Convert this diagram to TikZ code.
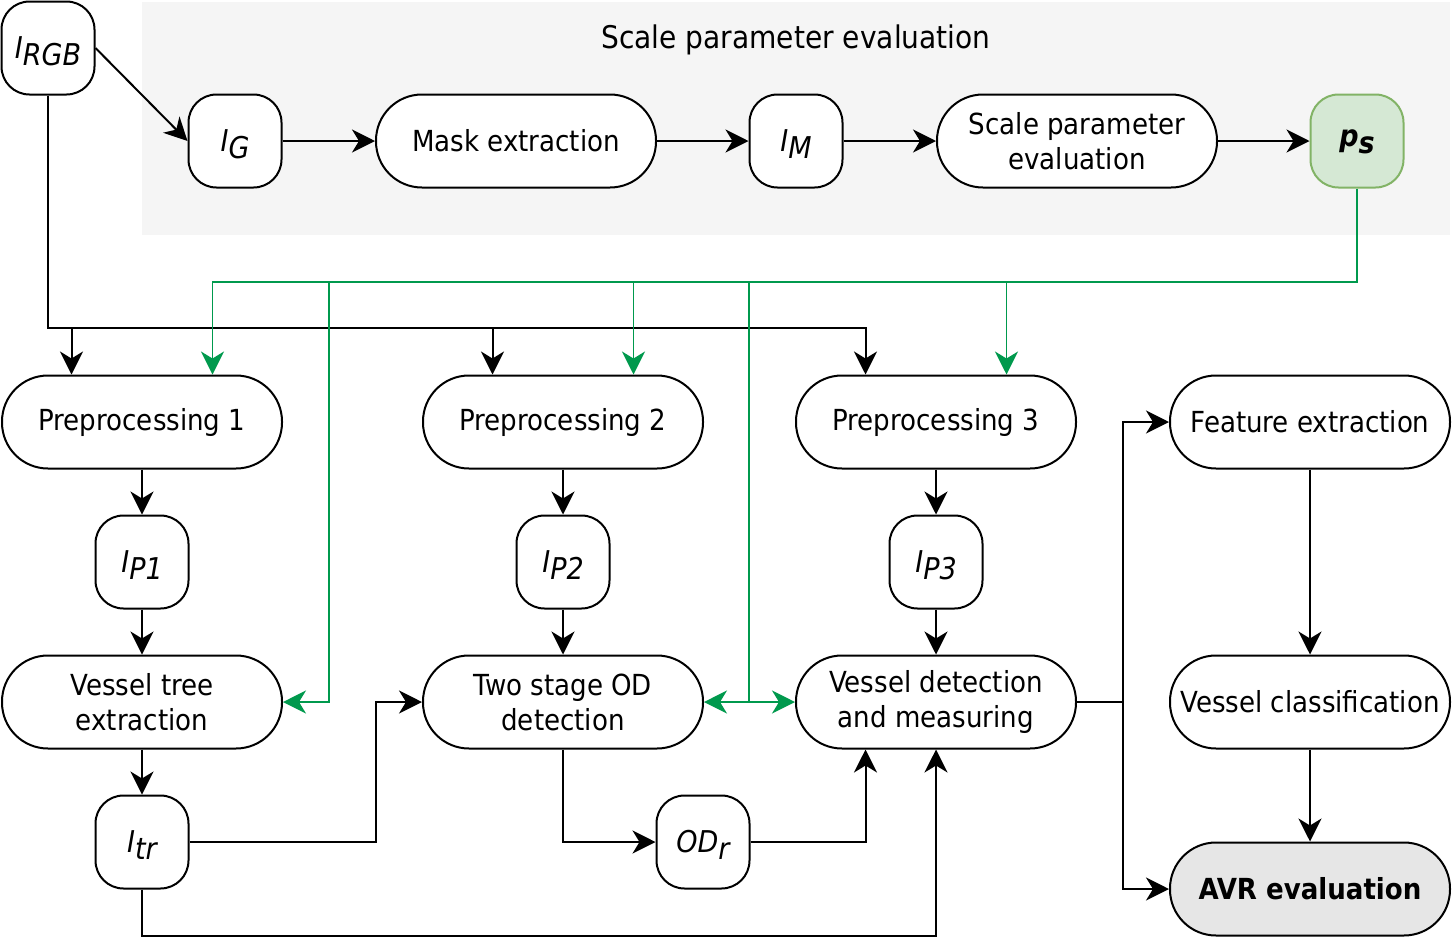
\documentclass[tikz,border=0pt]{standalone}
\usepackage{fontspec}
\setmainfont{DejaVu Sans Condensed}
\usetikzlibrary{arrows.meta,calc}
\definecolor{gline}{HTML}{00994D}
\definecolor{gfill}{HTML}{D5E8D4}
\definecolor{gdraw}{HTML}{82B366}
\definecolor{bggray}{HTML}{F5F5F5}
\definecolor{avrfill}{HTML}{E6E6E6}
\newcommand{\vsb}[2]{{\fontsize{15}{17}\selectfont\itshape #1\raisebox{-3.4pt}[0pt][0pt]{#2}}}
\begin{document}
\begin{tikzpicture}[x=0.5pt,y=-0.5pt,
  every node/.style={font=\fontsize{14.5}{17.5}\selectfont},
  sq/.style={draw, line width=1pt, fill=white, minimum width=46.5pt, minimum height=46.5pt, rounded corners=14pt, inner sep=0pt},
  pill/.style={draw, line width=1pt, fill=white, minimum width=140pt, minimum height=46.5pt, rounded corners=23pt, align=center, inner sep=0pt},
  arr/.style={line width=1pt, -{Stealth[length=11.5pt,width=11.5pt,inset=3.5pt]}},
  garr/.style={line width=0.8pt, draw=gline, -{Stealth[length=11.5pt,width=11.5pt,inset=3.5pt]}}
]
\useasboundingbox (0,0) rectangle (1453,938);
\fill[bggray] (142,2) rectangle (1450,235);
\node[font=\fontsize{15.6}{18}\selectfont] (title) at (796,40) {Scale parameter evaluation};

% top row
\node[sq] (irgb) at (48,48) {\vsb{I}{RGB}};
\node[sq] (ig) at (235,141) {\vsb{I}{G}};
\node[pill] (mask) at (516,141) {Mask extraction};
\node[sq] (im) at (796,141) {\vsb{I}{M}};
\node[pill] (spe) at (1077,141) {Scale parameter\\evaluation};
\node[sq, fill=gfill, draw=gdraw] (ps) at (1357,141) {\bfseries\vsb{p}{s}};

% row 2
\node[pill] (p1) at (142,422) {Preprocessing 1};
\node[pill] (p2) at (563,422) {Preprocessing 2};
\node[pill] (p3) at (936,422) {Preprocessing 3};
\node[pill] (fe) at (1310,422) {Feature extraction};

% row 3
\node[sq] (ip1) at (142,562) {\vsb{I}{P1}};
\node[sq] (ip2) at (563,562) {\vsb{I}{P2}};
\node[sq] (ip3) at (936,562) {\vsb{I}{P3}};

% row 4
\node[pill] (vt) at (142,702) {Vessel tree\\extraction};
\node[pill] (od) at (563,702) {Two stage OD\\detection};
\node[pill] (vd) at (936,702) {Vessel detection\\and measuring};
\node[pill] (vc) at (1310,702) {Vessel classification};

% row 5
\node[sq] (itr) at (142,842) {\vsb{I}{tr}};
\node[sq] (odr) at (703,842) {\vsb{OD}{r}};
\node[pill, fill=avrfill] (avr) at (1310,889) {\textbf{AVR evaluation}};

% helper coordinates
\path (p1.north west) -- (p1.north east) coordinate[pos=0.25] (p1a) coordinate[pos=0.75] (p1b);
\path (p2.north west) -- (p2.north east) coordinate[pos=0.25] (p2a) coordinate[pos=0.75] (p2b);
\path (p3.north west) -- (p3.north east) coordinate[pos=0.25] (p3a) coordinate[pos=0.75] (p3b);
\path (vd.south west) -- (vd.south east) coordinate[pos=0.25] (vdq);
\coordinate (yb) at (0,328);
\coordinate (yg) at (0,282);
\coordinate (ybot) at (0,936);
\coordinate (gx1) at (329,0);
\coordinate (gx2) at (749,0);
\coordinate (cx) at (376,0);
\coordinate (xr) at (1123,0);

% top chain
\draw[arr] (irgb.east) -- (ig.west);
\draw[arr] (ig) -- (mask);
\draw[arr] (mask) -- (im);
\draw[arr] (im) -- (spe);
\draw[arr] (spe) -- (ps);

% black bus
\draw[arr] (irgb.south) |- (p3a |- yb) -- (p3a);
\draw[arr] (p1a |- yb) -- (p1a);
\draw[arr] (p2a |- yb) -- (p2a);

% columns
\draw[arr] (p1) -- (ip1);
\draw[arr] (ip1) -- (vt);
\draw[arr] (vt) -- (itr);
\draw[arr] (p2) -- (ip2);
\draw[arr] (ip2) -- (od);
\draw[arr] (p3) -- (ip3);
\draw[arr] (ip3) -- (vd);

\draw[arr] (itr.east) -| (cx |- od.west) -- (od.west);
\draw[arr] (itr.south) |- (vd.south |- ybot) -- (vd.south);
\draw[arr] (od.south) |- (odr.west);
\draw[arr] (odr.east) -| (vdq);

\draw[arr] (vd.east) -- (xr |- vd.east) |- (fe.west);
\draw[arr] (xr |- vd.east) |- (avr.west);
\draw[arr] (fe) -- (vc);
\draw[arr] (vc) -- (avr);

% green
\draw[garr] (ps.south) |- (p1b |- yg) -- (p1b);
\draw[garr] (p2b |- yg) -- (p2b);
\draw[garr] (p3b |- yg) -- (p3b);
\draw[garr] (gx1 |- yg) |- (vt.east);
\draw[garr] (gx2 |- yg) |- (od.east);
\draw[garr] (gx2 |- vd.west) -- (vd.west);
\end{tikzpicture}
\end{document}
